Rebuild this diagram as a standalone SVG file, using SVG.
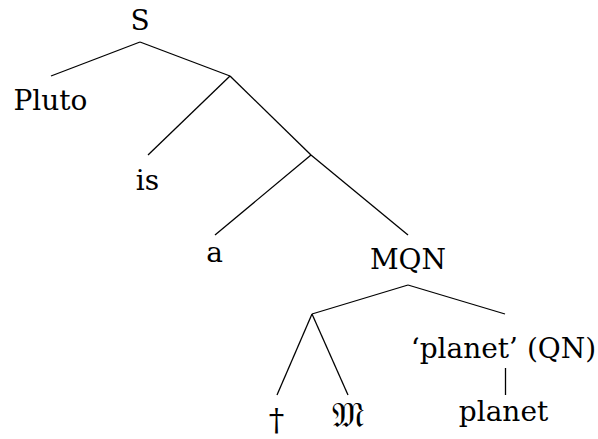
<svg xmlns="http://www.w3.org/2000/svg" width="598" height="439" viewBox="0 0 598 439">
<style>
text{font-family:"DejaVu Serif","Noto Sans","DejaVu Sans",serif;font-size:28px;fill:#000;text-anchor:middle}
.c line{stroke:#000;stroke-width:1.3;stroke-linecap:butt}
</style>
<rect width="598" height="439" fill="#fff"/>
<g class="c" id="connectors">
<line x1="140" y1="42" x2="51" y2="76"/>
<line x1="140" y1="42" x2="230" y2="76"/>
<line x1="230" y1="76" x2="148" y2="155"/>
<line x1="230" y1="76" x2="311" y2="155"/>
<line x1="311" y1="155" x2="215" y2="235"/>
<line x1="311" y1="155" x2="408" y2="235"/>
<line x1="408" y1="285" x2="312" y2="314"/>
<line x1="408" y1="285" x2="505" y2="314"/>
<line x1="312" y1="314" x2="277" y2="395"/>
<line x1="312" y1="314" x2="348" y2="395"/>
<line x1="505.5" y1="368" x2="505.5" y2="395"/>
</g>
<g id="S"><text x="140" y="30">S</text></g>
<g id="Pluto"><text x="50.5" y="110">Pluto</text></g>
<g id="is"><text x="147.5" y="190">is</text></g>
<g id="a"><text x="214.5" y="262">a</text></g>
<g id="MQN"><text x="408" y="269">MQN</text></g>
<g id="dagger"><text x="276.5" y="431" style="font-size:31px">†</text></g>
<g id="frakM"><text x="347.5" y="427" style="font-size:35px">𝔐</text></g>
<g id="planetQN"><text x="503.5" y="358">‘planet’ (QN)</text></g>
<g id="planet"><text x="503.5" y="421">planet</text></g>
</svg>
